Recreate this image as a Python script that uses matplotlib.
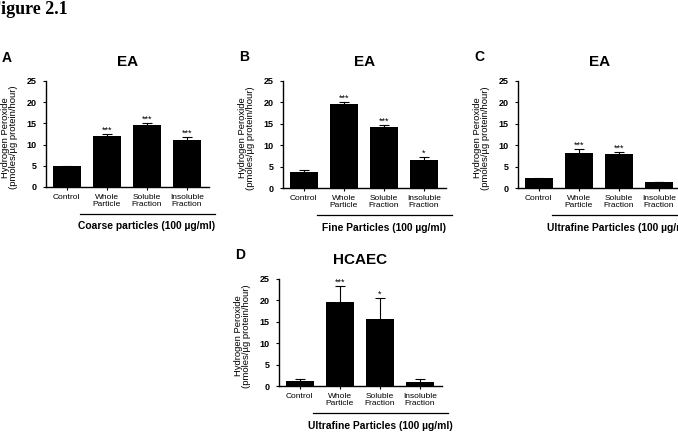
import matplotlib
matplotlib.use('Agg')
import matplotlib.pyplot as plt
import numpy as np

plt.rcParams['font.family'] = ['Liberation Sans', 'DejaVu Sans']

categories = ['Control', 'Whole\nParticle', 'Soluble\nFraction', 'Insoluble\nFraction']
yticks = [0, 5, 10, 15, 20, 25]

a_vals = [4.9, 12.0, 14.6, 11.1]
a_err = [0.1, 0.6, 0.5, 0.8]
a_stars = ['', '***', '***', '***']

b_vals = [3.8, 19.6, 14.3, 6.5]
b_err = [0.3, 0.6, 0.4, 0.8]
b_stars = ['', '***', '***', '*']

c_vals = [2.3, 8.2, 7.9, 1.4]
c_err = [0.1, 0.8, 0.6, 0.1]
c_stars = ['', '***', '***', '']

d_vals = [1.2, 19.7, 15.6, 1.0]
d_err = [0.45, 3.7, 4.9, 0.6]
d_stars = ['', '***', '*', '']

W, H = 678, 433
fig = plt.figure(figsize=(W / 100, H / 100), dpi=100)


def px_axes(left, top, width, height):
    # pixel box (origin top-left) -> figure fraction
    return fig.add_axes([left / W, 1 - (top + height) / H, width / W, height / H])


def panel(box, vals, errs, stars, title, letter, group):
    ax = px_axes(*box)
    x = np.arange(len(vals))
    ax.bar(x, vals, width=0.7, color='black', yerr=errs,
           error_kw=dict(ecolor='black', elinewidth=0.8, capsize=3.5, capthick=0.8))
    for xi, v, e, s in zip(x, vals, errs, stars):
        if s:
            ax.annotate(s, (xi, v + e), xytext=(0, -0.5), textcoords='offset points',
                        ha='center', va='bottom', fontsize=6.5)
    ax.set_xlim(-0.52, 3.55)
    ax.set_ylim(0, 25)
    ax.set_yticks(yticks)
    ax.set_xticks(x)
    ax.set_xticklabels(categories, fontsize=6, linespacing=1.05)
    ax.tick_params(axis='y', labelsize=6.5, length=2.5, width=0.8, pad=4.5)
    ax.tick_params(axis='x', length=2.5, width=0.8, pad=2.5)
    for lab in ax.get_yticklabels():
        lab.set_fontweight('bold')
    for sp in ['top', 'right']:
        ax.spines[sp].set_visible(False)
    for sp in ['left', 'bottom']:
        ax.spines[sp].set_linewidth(1.0)
    ax.set_ylabel('Hydrogen Peroxide\n(pmoles/\u00b5g protein/hour)', fontsize=6.8,
                  linespacing=0.95)
    ax.yaxis.set_label_coords(-0.17, 0.47)
    ax.set_title(title, fontsize=11, fontweight='bold', pad=11)
    ax.text(-0.24, 1.22, letter, transform=ax.transAxes, fontsize=10,
            fontweight='bold', ha='center', va='center')
    ax.plot([0.32, 3.7], [-0.255, -0.255], color='black', lw=0.9,
            transform=ax.get_xaxis_transform(), clip_on=False)
    ax.annotate(group, (2.0, -0.37), xycoords=ax.get_xaxis_transform(),
                ha='center', va='center', fontsize=7.4, fontweight='bold',
                annotation_clip=False)
    return ax


panel((46, 81, 163, 106), a_vals, a_err, a_stars, 'EA', 'A', 'Coarse particles (100 \u00b5g/ml)')
panel((283, 81, 163, 107), b_vals, b_err, b_stars, 'EA', 'B', 'Fine Particles (100 \u00b5g/ml)')
panel((518, 81, 163, 107), c_vals, c_err, c_stars, 'EA', 'C', 'Ultrafine Particles (100 \u00b5g/ml)')
panel((279, 279, 163, 107), d_vals, d_err, d_stars, 'HCAEC', 'D', 'Ultrafine Particles (100 \u00b5g/ml)')

fig.text(-10 / W, 1 - 10 / H, 'Figure 2.1', fontsize=13, fontweight='bold',
         family='Liberation Serif', ha='left', va='center')

fig.savefig('out.png', dpi=100)
